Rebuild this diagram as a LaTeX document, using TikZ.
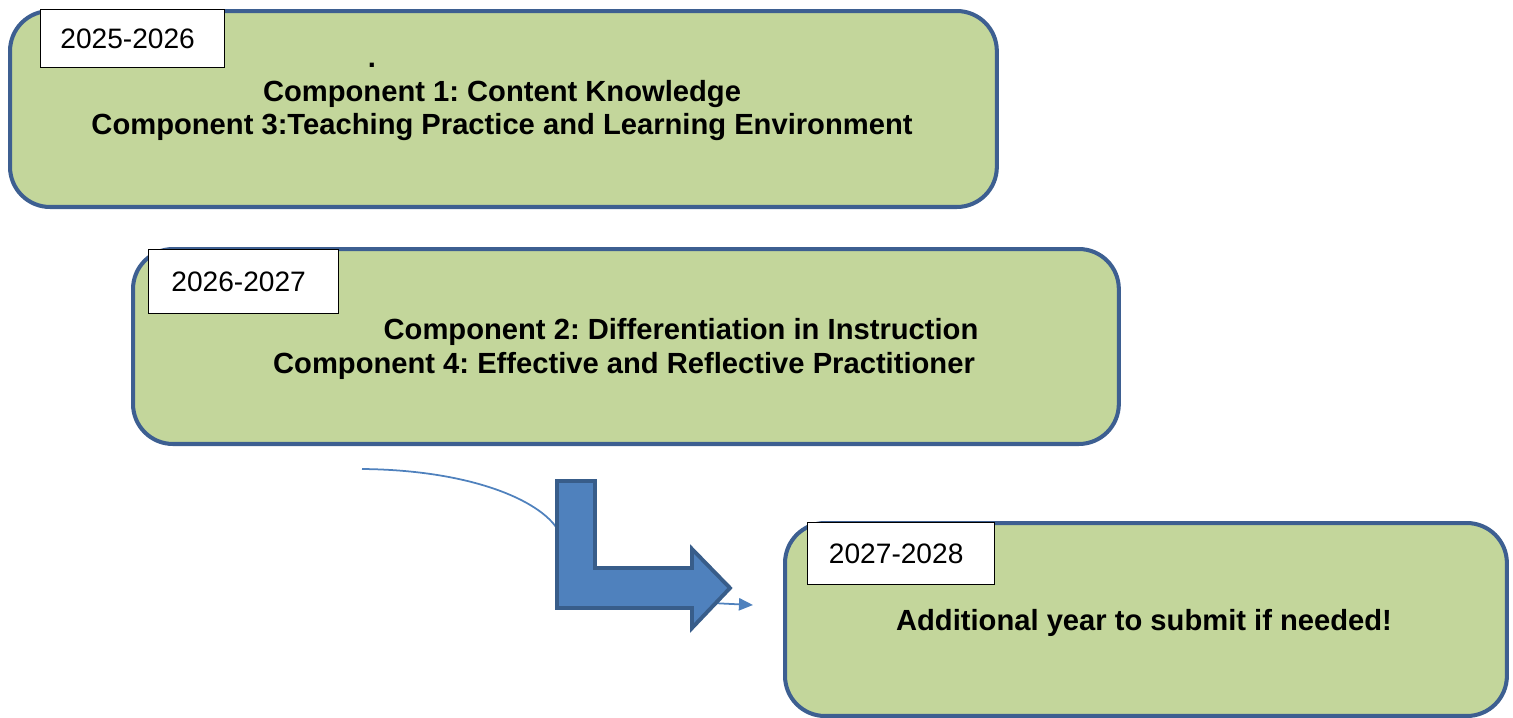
\documentclass[tikz,border=0pt]{standalone}
\usepackage{fontspec}
\setmainfont{Liberation Sans}
\usetikzlibrary{arrows.meta}
\frenchspacing

\definecolor{boxgreen}{HTML}{C3D69B}
\definecolor{boxline}{HTML}{3D5F91}
\definecolor{arrowfill}{HTML}{4F81BD}
\definecolor{arrowline}{HTML}{385D8A}

\tikzset{
  yearbox/.style={rounded corners=0.8cm, draw=boxline, fill=boxgreen, line width=2.3pt, anchor=north west},
  yeartag/.style={draw=black, fill=white, line width=0.8pt, anchor=north west, font=\fontsize{16}{19}\selectfont},
  comptext/.style={font=\fontsize{16.6}{20}\selectfont\bfseries, inner sep=0pt},
}

\begin{document}
\begin{tikzpicture}[x=0.02cm, y=-0.02cm]
                \useasboundingbox (0,0) rectangle (1513,717);

                % year boxes
                \node[yearbox, minimum width=19.74cm, minimum height=3.92cm] (first) at (8,9) {};
                \node[yearbox, minimum width=19.72cm, minimum height=3.9cm] (second) at (131,247) {};
                \node[yearbox, minimum width=14.44cm, minimum height=3.86cm] (third) at (783,521) {};

                \node[yeartag, minimum width=3.68cm, minimum height=1.16cm] (firsttag) at (40,9) {2025-2026\hspace*{0.2cm}};
                \node[yeartag, minimum width=3.8cm, minimum height=1.28cm] (secondtag) at (148,249) {2026-2027\hspace*{0.2cm}};
                \node[yeartag, minimum width=3.74cm, minimum height=1.24cm] (thirdtag) at (807,522) {2027-2028\hspace*{0.2cm}};

                % components
                \node[comptext] (dot) at (372,65) {.};
                \node[comptext] (compone) at (502,94) {Component 1: Content Knowledge};
                \node[comptext] (compthree) at (502,127) {Component 3:Teaching Practice and Learning Environment};
                \node[comptext] (comptwo) at (681,332) {Component 2: Differentiation in Instruction};
                \node[comptext] (compfour) at (624,366) {Component 4: Effective and Reflective Practitioner};
                \node[comptext] (extra) at (1144,623) {Additional year to submit if needed!};

                % connector and bent arrow
                \coordinate (curvestart) at (362,469);
                \coordinate (curveend) at (753,605);
                \draw[arrowfill, line width=1pt, -{Triangle[length=8pt,width=7pt]}]
                    (curvestart) .. controls (470,470) and (540,500) .. (558,530)
                    .. controls (600,600) and (690,602) .. (curveend);
                \draw[draw=arrowline, fill=arrowfill, line width=2.2pt, line join=miter]
                    (557,481) -- (595,481) -- (595,568) -- (692,568) -- (692,549)
                    -- (730,588) -- (692,628) -- (692,608) -- (557,608) -- cycle;
\end{tikzpicture}
\end{document}
